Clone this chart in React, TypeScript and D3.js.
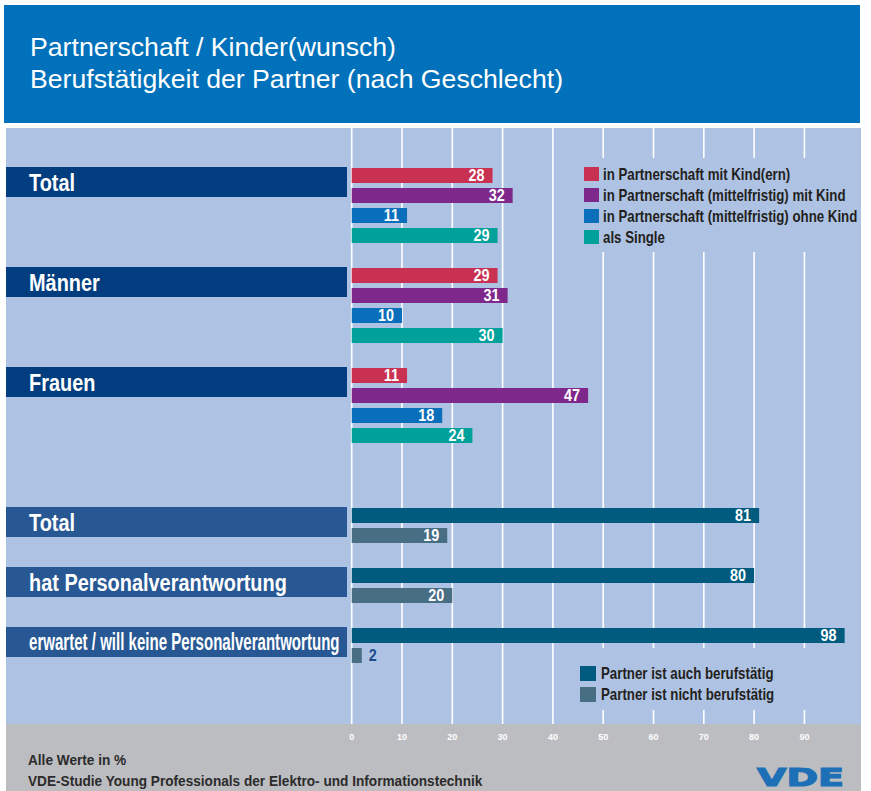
import { useEffect } from "react";
import * as d3 from "d3";

// upper block: Partnerschaft / Kinder(wunsch)
const groupsTop = ["Total", "Männer", "Frauen"];
const seriesTop = [
  "in Partnerschaft mit Kind(ern)",
  "in Partnerschaft (mittelfristig) mit Kind",
  "in Partnerschaft (mittelfristig) ohne Kind",
  "als Single",
];
const mitKind = [28, 29, 11];
const mittelfristigMitKind = [32, 31, 47];
const mittelfristigOhneKind = [11, 10, 18];
const alsSingle = [29, 30, 24];
const colorsTop = ["#c83152", "#7f288c", "#0a6fba", "#00a09b"];

// lower block: Berufstätigkeit der Partner
const groupsBottom = ["Total", "hat Personalverantwortung", "erwartet / will keine Personalverantwortung"];
const seriesBottom = ["Partner ist auch berufstätig", "Partner ist nicht berufstätig"];
const auchBerufstaetig = [81, 80, 98];
const nichtBerufstaetig = [19, 20, 2];
const colorsBottom = ["#005b7e", "#486e84"];

const ticks = [0, 10, 20, 30, 40, 50, 60, 70, 80, 90];

const W = 871;
const H = 791;
const SANS = "'Liberation Sans', Arial, Helvetica, sans-serif";
// no condensed face installed, so bold text is squeezed horizontally
const SQUEEZE = 0.83;

type TxtProps = {
  x: number;
  y: number;
  size: number;
  fill: string;
  sx?: number;
  anchor?: "start" | "middle" | "end";
  dy?: string;
  children: any;
};

function Txt({ x, y, size, fill, sx = SQUEEZE, anchor = "start", dy, children }: TxtProps) {
  return (
    <text
      transform={`translate(${x},${y}) scale(${sx},1)`}
      dy={dy}
      textAnchor={anchor}
      fill={fill}
      fontFamily={SANS}
      fontWeight="bold"
      fontSize={size}
    >
      {children}
    </text>
  );
}

export default function App() {
  useEffect(() => {
    document.body.style.margin = "0";
  }, []);

  const x = d3.scaleLinear().domain([0, 100]).range([351.7, 854.7]);
  const yTop = d3.scalePoint<string>().domain(groupsTop).range([168, 368]);
  const yBottom = d3.scalePoint<string>().domain(groupsBottom).range([508, 628]);
  const barH = 15;
  const pitch = 20;

  const topValues = [mitKind, mittelfristigMitKind, mittelfristigOhneKind, alsSingle];
  const bottomValues = [auchBerufstaetig, nichtBerufstaetig];

  const panelColor = "#aec3e3";

  const bar = (key: string, y: number, v: number, color: string) => {
    const x0 = x(0);
    const x1 = x(v);
    const inside = v >= 5;
    return (
      <g key={key}>
        <rect x={x0} y={y} width={x1 - x0} height={barH} fill={color} />
        <Txt
          x={inside ? x1 - 8 : x1 + 7}
          y={y + barH / 2}
          dy="0.36em"
          anchor={inside ? "end" : "start"}
          fill={inside ? "#ffffff" : "#1c4b8c"}
          size={16}
          sx={0.9}
        >
          {v}
        </Txt>
      </g>
    );
  };

  // the long label is squeezed harder so it fits inside its box
  const labelBox = (key: string, y: number, text: string, fill: string, sx = 0.83, size = 24) => (
    <g key={key}>
      <rect x={6} y={y - 1} width={341} height={30} fill={fill} />
      <Txt x={29} y={y + 14} dy="0.36em" fill="#ffffff" size={size} sx={sx}>
        {text}
      </Txt>
    </g>
  );

  return (
    <svg
      width={W}
      height={H}
      viewBox={`0 0 ${W} ${H}`}
      style={{ display: "block", position: "absolute", left: 0, top: 0 }}
    >
      <rect x={0} y={0} width={W} height={H} fill="#ffffff" />

      {/* header */}
      <rect x={4} y={5} width={856} height={118} fill="#0071ba" />
      <text x={30} y={56} fill="#ffffff" fontFamily={SANS} fontSize={25} textLength={366} lengthAdjust="spacingAndGlyphs">
        Partnerschaft / Kinder(wunsch)
      </text>
      <text x={30} y={88} fill="#ffffff" fontFamily={SANS} fontSize={25} textLength={533} lengthAdjust="spacingAndGlyphs">
        Berufstätigkeit der Partner (nach Geschlecht)
      </text>

      {/* panel + footer */}
      <rect x={6} y={128} width={855} height={596} fill={panelColor} />
      <rect x={6} y={724} width={855} height={67} fill="#bcbdc1" />

      {/* grid */}
      {ticks.map((t) => (
        <line key={t} x1={x(t)} x2={x(t)} y1={128} y2={724} stroke="#ffffff" strokeWidth={1.6} />
      ))}
      {ticks.map((t) => (
        <text
          key={"t" + t}
          x={x(t)}
          y={740}
          textAnchor="middle"
          fill="#ffffff"
          fontFamily={SANS}
          fontWeight="bold"
          fontSize={9}
        >
          {t}
        </text>
      ))}

      {/* legend backgrounds cover the grid */}
      <rect x={577} y={158} width={284} height={94} fill={panelColor} />
      <rect x={577} y={648} width={284} height={62} fill={panelColor} />

      {/* upper block */}
      {groupsTop.map((g, i) => {
        const y0 = yTop(g) as number;
        return (
          <g key={"gt" + i}>
            {labelBox("lt" + i, y0, g, "#023e7f")}
            {topValues.map((vals, j) => bar(`bt${i}-${j}`, y0 + j * pitch, vals[i], colorsTop[j]))}
          </g>
        );
      })}

      {/* lower block */}
      {groupsBottom.map((g, i) => {
        const y0 = yBottom(g) as number;
        return (
          <g key={"gb" + i}>
            {i === 2 ? labelBox("lb" + i, y0, g, "#285893", 0.655, 23) : labelBox("lb" + i, y0, g, "#285893")}
            {bottomValues.map((vals, j) => bar(`bb${i}-${j}`, y0 + j * pitch, vals[i], colorsBottom[j]))}
          </g>
        );
      })}

      {/* legends */}
      {seriesTop.map((s, j) => (
        <g key={"leg" + j} transform={`translate(584, ${167 + j * 21})`}>
          <rect width={15} height={14} fill={colorsTop[j]} />
          <Txt x={19} y={7} dy="0.36em" fill="#231f20" size={16}>
            {s}
          </Txt>
        </g>
      ))}
      {seriesBottom.map((s, j) => (
        <g key={"legb" + j} transform={`translate(580, ${666 + j * 21})`}>
          <rect width={16} height={15} fill={colorsBottom[j]} />
          <Txt x={21} y={7.5} dy="0.36em" fill="#231f20" size={16}>
            {s}
          </Txt>
        </g>
      ))}

      {/* footer notes */}
      <Txt x={28} y={765} fill="#2b2b2b" size={14.5} sx={0.94}>
        Alle Werte in %
      </Txt>
      <Txt x={28} y={786} fill="#2b2b2b" size={14.5} sx={0.94}>
        VDE-Studie Young Professionals der Elektro- und Informationstechnik
      </Txt>
      <text
        x={757}
        y={786}
        fill="#1d6fb6"
        stroke="#1d6fb6"
        strokeWidth={1.2}
        fontFamily="'DejaVu Sans', sans-serif"
        fontWeight="bold"
        fontSize={25}
        textLength={87}
        lengthAdjust="spacingAndGlyphs"
      >
        VDE
      </text>
    </svg>
  );
}
